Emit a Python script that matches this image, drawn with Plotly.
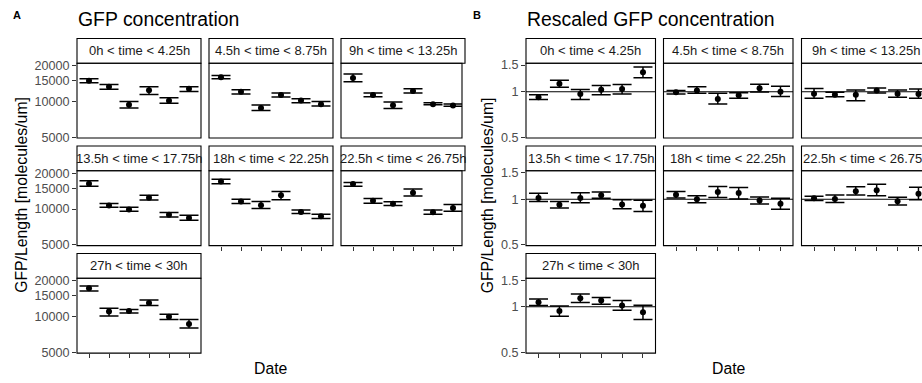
import plotly.graph_objects as go
import numpy as np

W, H = 922, 383

dates = ["D1", "D2", "D3", "D4", "D5", "D6"]
facets = ["0h < time < 4.25h", "4.5h < time < 8.75h", "9h < time < 13.25h",
          "13.5h < time < 17.75h", "18h < time < 22.25h", "22.5h < time < 26.75h",
          "27h < time < 30h"]

gfp_mean = [
    [15000, 13300, 9400, 12470, 10130, 12800],
    [16040, 12100, 8830, 11350, 10200, 9500],
    [15800, 11350, 9290, 12280, 9500, 9240],
    [16380, 10700, 9890, 12470, 8950, 8380],
    [17100, 11570, 10740, 13050, 9460, 8670],
    [16300, 11780, 11100, 13710, 9400, 10200],
    [17350, 11020, 11160, 13050, 9950, 8670],
]
gfp_low = [
    [14440, 12700, 8830, 11440, 9650, 12170],
    [15560, 11570, 8380, 10940, 9760, 9180],
    [14700, 11000, 8730, 11780, 9400, 9100],
    [15560, 10330, 9560, 11950, 8550, 8040],
    [16380, 11160, 10130, 12000, 9180, 8330],
    [15600, 11220, 10700, 12860, 9040, 9570],
    [16460, 10130, 10740, 12400, 9460, 7990],
]
gfp_high = [
    [15550, 13950, 10020, 13300, 10740, 13300],
    [16560, 12560, 9350, 11780, 10540, 10020],
    [17100, 11780, 9890, 12800, 9760, 9540],
    [17350, 11160, 10330, 13050, 9350, 8880],
    [17890, 12100, 11570, 14050, 9830, 9040],
    [16800, 12280, 11500, 14800, 9830, 10940],
    [18100, 11780, 11500, 13800, 10470, 9460],
]

resc_mean = [
    [0.919, 1.13, 0.965, 1.03, 1.04, 1.346],
    [0.99, 1.02, 0.896, 0.946, 1.055, 1.0],
    [0.97, 0.956, 0.956, 1.02, 0.97, 0.966],
    [1.02, 0.919, 1.02, 1.061, 0.924, 0.905],
    [1.072, 1.0, 1.115, 1.098, 0.98, 0.933],
    [1.015, 1.005, 1.13, 1.148, 0.97, 1.088],
    [1.07, 0.937, 1.136, 1.098, 1.02, 0.919],
]
resc_low = [
    [0.888, 1.07, 0.888, 0.956, 0.965, 1.236],
    [0.965, 0.975, 0.828, 0.905, 0.994, 0.928],
    [0.906, 0.924, 0.87, 0.98, 0.92, 0.906],
    [0.966, 0.875, 0.946, 1.015, 0.866, 0.828],
    [1.02, 0.946, 1.025, 1.005, 0.928, 0.858],
    [0.98, 0.952, 1.066, 1.056, 0.915, 0.99],
    [1.02, 0.866, 1.066, 1.04, 0.946, 0.824],
]
resc_high = [
    [0.956, 1.19, 1.035, 1.10, 1.115, 1.456],
    [1.02, 1.077, 0.975, 0.985, 1.12, 1.087],
    [1.05, 0.99, 1.025, 1.056, 1.025, 1.04],
    [1.093, 0.966, 1.105, 1.115, 0.99, 0.985],
    [1.126, 1.056, 1.213, 1.195, 1.035, 1.015],
    [1.045, 1.066, 1.207, 1.255, 1.03, 1.2],
    [1.126, 1.01, 1.213, 1.153, 1.098, 1.024],
]

gfp_ticks = [5000, 10000, 15000, 20000]
resc_ticks = [0.5, 1, 1.5]
resc_ticktext = ["0.5", "1", "1.5"]

FONT = "Liberation Sans, Arial, sans-serif"


def fx(px):
    return px / W


def fy(py):
    return 1 - py / H


# geometry (pixels)
row_strip_top = [34.5, 145.2, 255.9]
STRIP_H = 25.5
PANEL_H = 77.0
panels = {
    "A": dict(cols=[(77, 201), (209, 333), (341, 465)], clip=462,
              yrange=[np.log10(4910), np.log10(21050)],
              mean=gfp_mean, low=gfp_low, high=gfp_high,
              tickvals=gfp_ticks, ticktext=[str(t) for t in gfp_ticks],
              title="GFP concentration", letter="A", letter_x=16.5,
              title_x=76, ytitle_x=21.5, xtitle_x=270.5, hline=False),
    "B": dict(cols=[(526, 655.5), (663.5, 793), (801.5, 931)], clip=922,
              yrange=[-0.307, 0.188],
              mean=resc_mean, low=resc_low, high=resc_high,
              tickvals=resc_ticks, ticktext=resc_ticktext,
              title="Rescaled GFP concentration", letter="B", letter_x=476.5,
              title_x=525, ytitle_x=487, xtitle_x=729, hline=True),
}
bottom_facets = {3 * 2 + 0, 3 * 1 + 1, 3 * 1 + 2}

fig = go.Figure()
shapes = []
annotations = []
layout_axes = {}

n = 0
for key, P in panels.items():
    for i, lab in enumerate(facets):
        n += 1
        r, c = divmod(i, 3)
        x0, x1 = P["cols"][c]
        full_w = x1 - x0
        x1c = min(x1, P["clip"])
        upp = 6.2 / full_w
        xr = [-0.6, -0.6 + (x1c - x0) * upp]
        st = row_strip_top[r]
        pt = st + STRIP_H
        pb = pt + PANEL_H
        xa = "x" if n == 1 else f"x{n}"
        ya = "y" if n == 1 else f"y{n}"
        xname = "xaxis" if n == 1 else f"xaxis{n}"
        yname = "yaxis" if n == 1 else f"yaxis{n}"

        m = np.array(P["mean"][i], dtype=float)
        lo = np.array(P["low"][i], dtype=float)
        hi = np.array(P["high"][i], dtype=float)
        fig.add_trace(go.Scatter(
            x=dates, y=m, xaxis=xa, yaxis=ya, mode="markers",
            marker=dict(color="black", size=6),
            error_y=dict(type="data", symmetric=False, array=hi - m,
                         arrayminus=m - lo, color="black", thickness=1.5,
                         width=9.5),
            showlegend=False, hoverinfo="skip"))

        is_bottom = i in bottom_facets
        layout_axes[xname] = dict(
            domain=[fx(x0), fx(x1c)], anchor=ya, type="category",
            categoryorder="array", categoryarray=dates, range=xr,
            showgrid=False, zeroline=False, showline=False,
            showticklabels=False,
            ticks="outside" if is_bottom else "", ticklen=4, tickwidth=1,
            tickcolor="#333333", fixedrange=True)
        layout_axes[yname] = dict(
            domain=[fy(pb), fy(pt)], anchor=xa, type="log",
            range=P["yrange"], showgrid=False, zeroline=False, showline=False,
            tickvals=P["tickvals"], ticktext=P["ticktext"],
            showticklabels=(c == 0), ticks="outside" if c == 0 else "",
            ticklen=4, tickwidth=1, tickcolor="#333333",
            tickfont=dict(family=FONT, size=12.6, color="#4D4D4D"),
            fixedrange=True)

        # strip box
        shapes.append(dict(type="rect", xref="paper", yref="paper",
                           x0=fx(x0), x1=fx(x1), y0=fy(pt), y1=fy(st),
                           line=dict(color="black", width=1.1),
                           fillcolor="white", layer="below"))
        # panel border
        shapes.append(dict(type="rect", xref="paper", yref="paper",
                           x0=fx(x0), x1=fx(x1c if key == "A" else x1),
                           y0=fy(pb), y1=fy(pt),
                           line=dict(color="black", width=1.1),
                           fillcolor="rgba(0,0,0,0)", layer="above"))
        if P["hline"]:
            shapes.append(dict(type="line", xref=f"{xa} domain", yref=ya,
                               x0=0, x1=1, y0=1, y1=1,
                               line=dict(color="black", width=1.1),
                               layer="below"))
        annotations.append(dict(
            text=lab, xref="paper", yref="paper",
            x=fx((x0 + x1) / 2), y=fy(st + STRIP_H / 2),
            xanchor="center", yanchor="middle", showarrow=False,
            font=dict(family=FONT, size=13, color="#1A1A1A")))

    # titles
    annotations.append(dict(
        text=P["title"], xref="paper", yref="paper", x=fx(P["title_x"]),
        y=fy(14.5), xanchor="left", yanchor="middle", showarrow=False,
        font=dict(family=FONT, size=19.4, color="black")))
    annotations.append(dict(
        text="<b>" + P["letter"] + "</b>", xref="paper", yref="paper",
        x=fx(P["letter_x"]), y=fy(10), xanchor="center", yanchor="middle",
        showarrow=False, font=dict(family=FONT, size=11, color="black")))
    annotations.append(dict(
        text="GFP/Length [molecules/um]", xref="paper", yref="paper",
        x=fx(P["ytitle_x"]), y=fy(196), xanchor="center", yanchor="middle",
        textangle=-90, showarrow=False,
        font=dict(family=FONT, size=15.8, color="black")))
    annotations.append(dict(
        text="Date", xref="paper", yref="paper", x=fx(P["xtitle_x"]),
        y=fy(374), xanchor="center", yanchor="middle", showarrow=False,
        font=dict(family=FONT, size=15.8, color="black")))

fig.update_layout(
    width=W, height=H, margin=dict(l=0, r=0, t=0, b=0),
    paper_bgcolor="white", plot_bgcolor="white", showlegend=False,
    shapes=shapes, annotations=annotations, **layout_axes)

fig.write_html("out.html")
